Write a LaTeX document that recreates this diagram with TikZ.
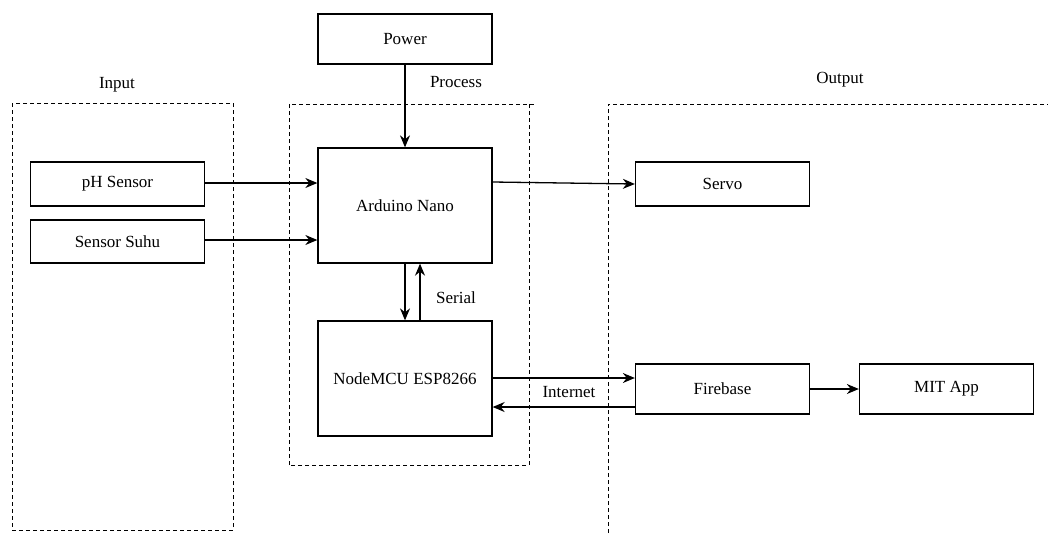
\documentclass[tikz,border=0pt]{standalone}
\usepackage{fontspec}
\setmainfont{Liberation Serif}
\usetikzlibrary{arrows.meta}
\begin{document}
\begin{tikzpicture}[x=1pt,y=-1pt,
  blk/.style={draw,line width=1.3pt,minimum width=174pt,inner sep=0pt,font=\fontsize{17}{20}\selectfont},
  grp/.style={draw,line width=1pt,dash pattern=on 4pt off 3pt},
  lbl/.style={font=\fontsize{17}{20}\selectfont,inner sep=0pt},
  arr/.style={-{Stealth[length=12pt,width=10pt]},line width=1.3pt}]
\useasboundingbox (0,0) rectangle (1048,533);
% groups
\draw[grp] (12,103) rectangle (233,530);
\draw[grp] (289,465) -- (289,104) -- (536,104);
\draw[grp] (529,104) -- (529,465) -- (289,465);
\draw[grp] (608,533) -- (608,104) -- (1048,104);
% group labels
\node[lbl] (tin) at (117,85) {Input};
\node[lbl] (tpr) at (456,82) {Process};
\node[lbl] (tout) at (840,80) {Output};
% blocks
\node[blk,minimum height=50pt] (power) at (405,39) {Power};
\node[blk,minimum height=115pt] (nano) at (405,205.5) {Arduino Nano};
\node[blk,minimum height=115pt] (mcu) at (405,378.5) {NodeMCU ESP8266};
\node[blk,minimum height=44pt] (ph) at (117.5,184) {pH Sensor};
\node[blk,minimum height=43pt] (suhu) at (117.5,241.5) {Sensor Suhu};
\node[blk,minimum height=44pt] (servo) at (722.5,184) {Servo};
\node[blk,minimum height=50pt] (fb) at (722.5,389) {Firebase};
\node[blk,minimum height=50pt] (mit) at (946.5,389) {MIT App};
% connectors
\draw[arr] (power) -- (nano);
\draw[arr] (ph.east |- 0,183) -- (nano.west |- 0,183);
\draw[arr] (suhu.east |- 0,240) -- (nano.west |- 0,240);
\draw[arr] (nano.east |- 0,182) -- (servo.west |- 0,184);
\draw[arr] (nano.south -| 405,0) -- (mcu.north -| 405,0);
\draw[arr] (mcu.north -| 420,0) -- (nano.south -| 420,0);
\node[lbl] (tser) at (456,298) {Serial};
\draw[arr] (mcu.east |- 0,378) -- (fb.west |- 0,378);
\draw[arr] (fb.west |- 0,407) -- (mcu.east |- 0,407);
\node[lbl] (tnet) at (569,392) {Internet};
\draw[arr] (fb.east |- 0,389) -- (mit.west |- 0,389);
\end{tikzpicture}
\end{document}
